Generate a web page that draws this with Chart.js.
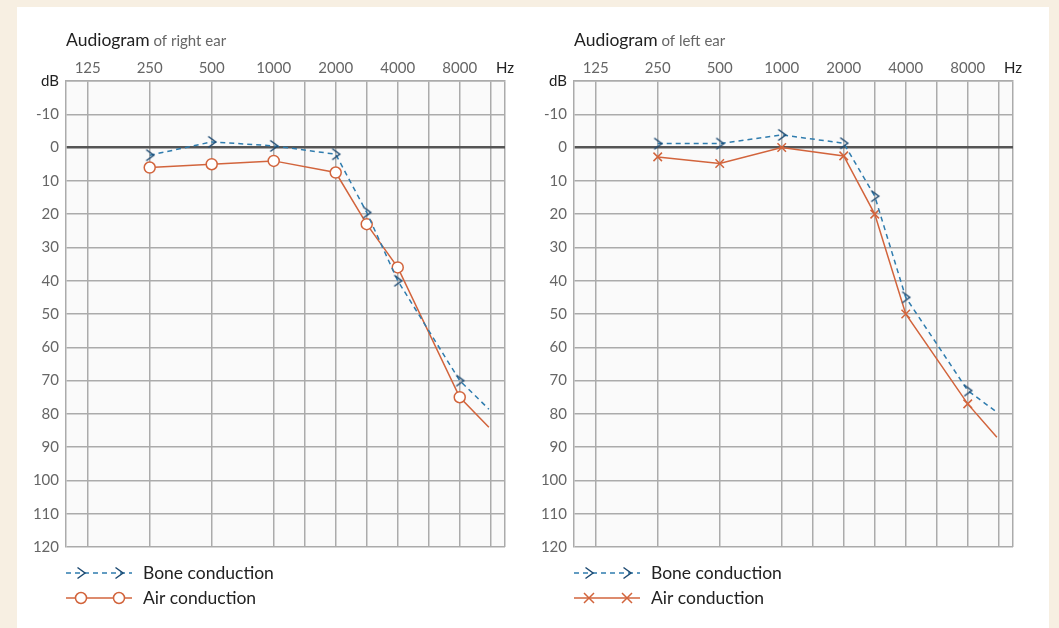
<!DOCTYPE html>
<html>
<head>
<meta charset="utf-8">
<script src="https://cdn.jsdelivr.net/npm/chart.js@4.4.1/dist/chart.umd.min.js"></script>
<style>
  html, body { margin: 0; padding: 0; }
  body { width: 1059px; height: 628px; background: #f7efe2; position: relative; overflow: hidden; font-family: Lato, sans-serif; }
  #sheet { position: absolute; left: 17px; top: 7px; width: 1032px; height: 621px; background: #ffffff; }
  canvas { position: absolute; top: 0; }
  #rightEar { left: 0; }
  #leftEar { left: 508px; }
</style>
</head>
<body>
<div id="sheet">
  <canvas id="rightEar" width="508" height="621"></canvas>
  <canvas id="leftEar" width="508" height="621"></canvas>
</div>
<script>
// octave positions on the x axis: 125 -> 0, 250 -> 1 ... 8000 -> 6
const freqLabels = ['125', '250', '500', '1000', '2000', '4000', '8000'];
const octaveTicks = [0, 1, 2, 3, 4, 5, 6];
const halfOctaveTicks = [3.5, 4.5, 5.5, 6.5];
const dbTicks = [-20, -10, 0, 10, 20, 30, 40, 50, 60, 70, 80, 90, 100, 110, 120];

// measured frequencies (octave position) : 250, 500, 1000, 2000, 3000, 4000, 8000, line end
const measuredAt = [1, 2, 3, 4, 4.5, 5, 6, 6.47];

const rightAir = [6, 5, 4, 7.5, 23, 36, 75, 84];
const rightBone = [2.3, -1.7, -0.5, 2, 19.5, 40, 70, 78.6];
const leftAir = [2.8, 4.8, 0, 2.5, 20, 50, 77, 87];
const leftBone = [-1.2, -1.2, -3.8, -1.3, 14.6, 45, 73, 79.5];

const airColor = '#d2643c';
const boneColor = '#2f7cae';
const arrowColor = '#1d4a72';
const gridColor = '#ababab';

// '>' marker for bone conduction
function makeArrow() {
    const c = document.createElement('canvas');
    c.width = 12; c.height = 14;
    const g = c.getContext('2d');
    g.strokeStyle = arrowColor;
    g.lineWidth = 1.5;
    g.beginPath();
    g.moveTo(2.5, 1.5);
    g.lineTo(10, 7);
    g.lineTo(2.5, 12.5);
    g.stroke();
    return c;
}
const arrowImg = makeArrow();

function toPoints(values) {
    return values.map((v, i) => ({ x: measuredAt[i], y: v }));
}

const sheetPlugin = {
    id: 'sheet',
    beforeDraw(chart) {
        const a = chart.chartArea;
        const ctx = chart.ctx;
        ctx.save();
        ctx.fillStyle = '#fafafa';
        ctx.fillRect(a.left, a.top, a.right - a.left, a.bottom - a.top);
        ctx.restore();
    },
    afterDraw(chart, args, opts) {
        const ctx = chart.ctx;
        const a = chart.chartArea;
        ctx.save();
        // title
        ctx.textBaseline = 'alphabetic';
        ctx.font = '17.5px Lato';
        ctx.fillStyle = '#222';
        ctx.fillText('Audiogram', a.left, 39);
        const w = ctx.measureText('Audiogram').width;
        ctx.font = '15px Lato';
        ctx.fillStyle = '#666';
        ctx.fillText(' ' + opts.subtitle, a.left + w, 39);

        // legend
        const x0 = a.left, x1 = a.left + 66;
        const yBone = 566, yAir = 591;
        ctx.lineWidth = 1.5;
        ctx.strokeStyle = boneColor;
        ctx.setLineDash([5, 4]);
        ctx.beginPath();
        ctx.moveTo(x0, yBone);
        ctx.lineTo(x1, yBone);
        ctx.stroke();
        ctx.setLineDash([]);
        [x0 + 15, x0 + 53].forEach(x => ctx.drawImage(arrowImg, x - 6, yBone - 7));

        ctx.strokeStyle = airColor;
        ctx.beginPath();
        ctx.moveTo(x0, yAir);
        ctx.lineTo(x1, yAir);
        ctx.stroke();
        [x0 + 15, x0 + 53].forEach(x => {
            ctx.beginPath();
            if (opts.airStyle === 'circle') {
                ctx.arc(x, yAir, 5.5, 0, Math.PI * 2);
                ctx.fillStyle = '#ffffff';
                ctx.fill();
            } else {
                ctx.moveTo(x - 5, yAir - 5); ctx.lineTo(x + 5, yAir + 5);
                ctx.moveTo(x + 5, yAir - 5); ctx.lineTo(x - 5, yAir + 5);
            }
            ctx.stroke();
        });

        ctx.font = '17.5px Lato';
        ctx.fillStyle = '#222';
        ctx.textBaseline = 'middle';
        ctx.fillText('Bone conduction', a.left + 77, yBone);
        ctx.fillText('Air conduction', a.left + 77, yAir);
        ctx.restore();
    }
};

function makeAudiogram(canvasId, air, bone, airStyle, subtitle) {
    const ctx = document.getElementById(canvasId).getContext('2d');
    const last = measuredAt.length - 1;
    return new Chart(ctx, {
        type: 'line',
        data: {
            datasets: [{
                label: 'Bone conduction',
                data: toPoints(bone),
                borderColor: boneColor,
                borderWidth: 1.5,
                borderDash: [5, 4],
                pointStyle: arrowImg,
                pointRadius: measuredAt.map((v, i) => i === last ? 0 : 6),
                fill: false,
                tension: 0
            }, {
                label: 'Air conduction',
                data: toPoints(air),
                borderColor: airColor,
                borderWidth: 1.5,
                pointStyle: airStyle === 'circle' ? 'circle' : 'crossRot',
                pointRadius: measuredAt.map((v, i) => i === last ? 0 : (airStyle === 'circle' ? 5.5 : 6)),
                pointBorderWidth: 1.5,
                pointBorderColor: airColor,
                pointBackgroundColor: '#ffffff',
                fill: false,
                tension: 0
            }]
        },
        options: {
            responsive: false,
            animation: false,
            events: [],
            layout: { padding: { top: 0, left: 0, right: 20, bottom: 81 } },
            plugins: {
                legend: { display: false },
                tooltip: { enabled: false },
                sheet: { subtitle: subtitle, airStyle: airStyle }
            },
            scales: {
                x: {
                    type: 'linear',
                    position: 'top',
                    min: -0.35,
                    max: 6.73,
                    afterFit: function (scale) { scale.height = 74; },
                    afterBuildTicks: function (scale) {
                        const vals = octaveTicks.concat(halfOctaveTicks, [6.73]).sort((p, q) => p - q);
                        scale.ticks = vals.map(v => ({ value: v }));
                    },
                    grid: { color: gridColor, lineWidth: 1.5, drawTicks: false },
                    border: { display: true, color: gridColor, width: 1.5 },
                    ticks: {
                        autoSkip: false,
                        maxRotation: 0,
                        padding: 4,
                        font: { family: 'Lato', size: 15 },
                        color: function (c) { return c.tick && c.tick.value > 6.6 ? '#222' : '#666'; },
                        callback: function (value) {
                            if (value > 6.6) return 'Hz';
                            const i = octaveTicks.indexOf(value);
                            return i >= 0 ? freqLabels[i] : '';
                        }
                    }
                },
                y: {
                    type: 'linear',
                    reverse: true,
                    min: dbTicks[0],
                    max: dbTicks[dbTicks.length - 1],
                    afterFit: function (scale) { scale.width = 49; },
                    afterBuildTicks: function (scale) {
                        scale.ticks = dbTicks.map(v => ({ value: v }));
                    },
                    grid: {
                        drawTicks: false,
                        color: function (c) { return c.tick && c.tick.value === 0 ? '#555' : gridColor; },
                        lineWidth: function (c) { return c.tick && c.tick.value === 0 ? 2.5 : 1.5; }
                    },
                    border: { display: true, color: gridColor, width: 1.5 },
                    ticks: {
                        padding: 7,
                        font: { family: 'Lato', size: 15 },
                        color: function (c) { return c.tick && c.tick.value === -20 ? '#222' : '#666'; },
                        callback: function (value) { return value === -20 ? 'dB' : String(value); }
                    }
                }
            }
        },
        plugins: [sheetPlugin]
    });
}

const rightEarChart = makeAudiogram('rightEar', rightAir, rightBone, 'circle', 'of right ear');
const leftEarChart = makeAudiogram('leftEar', leftAir, leftBone, 'cross', 'of left ear');
</script>
</body>
</html>
